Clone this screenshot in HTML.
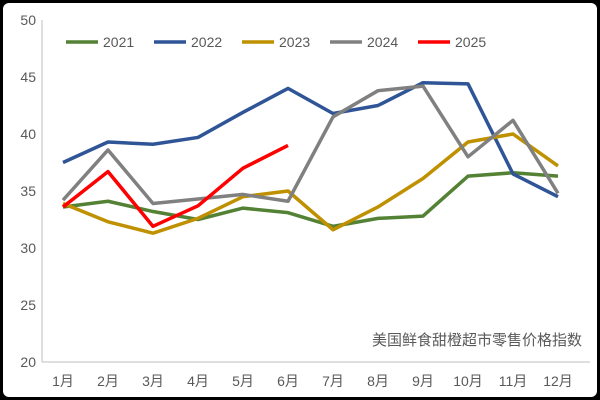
<!DOCTYPE html>
<html><head><meta charset="utf-8"><style>
body{margin:0;background:#000;}
svg{display:block;font-family:"Liberation Sans","Noto Sans CJK SC",sans-serif;}
</style></head><body>
<svg id="c" width="600" height="400">
<rect x="0" y="0" width="600" height="400" fill="#000"/>
<rect x="3" y="3" width="594" height="394" rx="6" fill="#fff"/>
</svg>
<script>
const categories=["1月","2月","3月","4月","5月","6月","7月","8月","9月","10月","11月","12月"];
const yTicks=[20,25,30,35,40,45,50];
const seriesNames=["2021","2022","2023","2024","2025"];
const seriesColors=["#548235","#2f5597","#bf9000","#808080","#ff0000"];
const s2021=[33.6,34.1,33.2,32.5,33.5,33.1,31.9,32.6,32.8,36.3,36.6,36.3];
const s2022=[37.5,39.3,39.1,39.7,41.9,44.0,41.8,42.5,44.5,44.4,36.5,34.5];
const s2023=[33.9,32.3,31.3,32.6,34.5,35.0,31.6,33.6,36.1,39.3,40.0,37.2];
const s2024=[34.2,38.6,33.9,34.3,34.7,34.1,41.5,43.8,44.2,38.0,41.2,34.8];
const s2025=[33.6,36.7,31.9,33.7,37.0,39.0];
const allSeries=[s2021,s2022,s2023,s2024,s2025];
const svg=document.getElementById('c');const NS='http://www.w3.org/2000/svg';
const L=42,R=590,T=20,B=362,STEP=45,OFF=21;
const x=i=>L+OFF+STEP*i;
const y=v=>B-(v-20)/30*(B-T);
function mk(t,a,p){const e=document.createElementNS(NS,t);for(const k in a)e.setAttribute(k,a[k]);(p||svg).appendChild(e);return e;}
const ax=mk('line',{x1:L,y1:T,x2:L,y2:B,stroke:'#bfbfbf'});


const bx=mk('line',{x1:L,y1:B,x2:R,y2:B,stroke:'#bfbfbf'});


yTicks.forEach(v=>{const t=mk('text',{x:L-6,y:y(v)+5,'text-anchor':'end','font-size':14,fill:'#595959'});t.textContent=v;

});
categories.forEach((c,i)=>{const t=mk('text',{x:x(i),y:B+24,'text-anchor':'middle','font-size':14,fill:'#595959'});t.textContent=c;

});
allSeries.forEach((s,k)=>{const p=mk('polyline',{points:s.map((v,i)=>x(i)+','+y(v)).join(' '),fill:'none',stroke:seriesColors[k],'stroke-width':3.5,'stroke-linejoin':'round'});

});
const lx=[66,154,242,330,418];
seriesNames.forEach((n,k)=>{const g=mk('g',{});


mk('line',{x1:lx[k],y1:42,x2:lx[k]+32,y2:42,stroke:seriesColors[k],'stroke-width':3.5},g);
const t=mk('text',{x:lx[k]+37,y:47,'font-size':14,fill:'#595959'},g);t.textContent=n;});
const note=mk('text',{x:582,y:345,'text-anchor':'end','font-size':15,fill:'#595959'});note.textContent='美国鲜食甜橙超市零售价格指数';


</script>
</body></html>
